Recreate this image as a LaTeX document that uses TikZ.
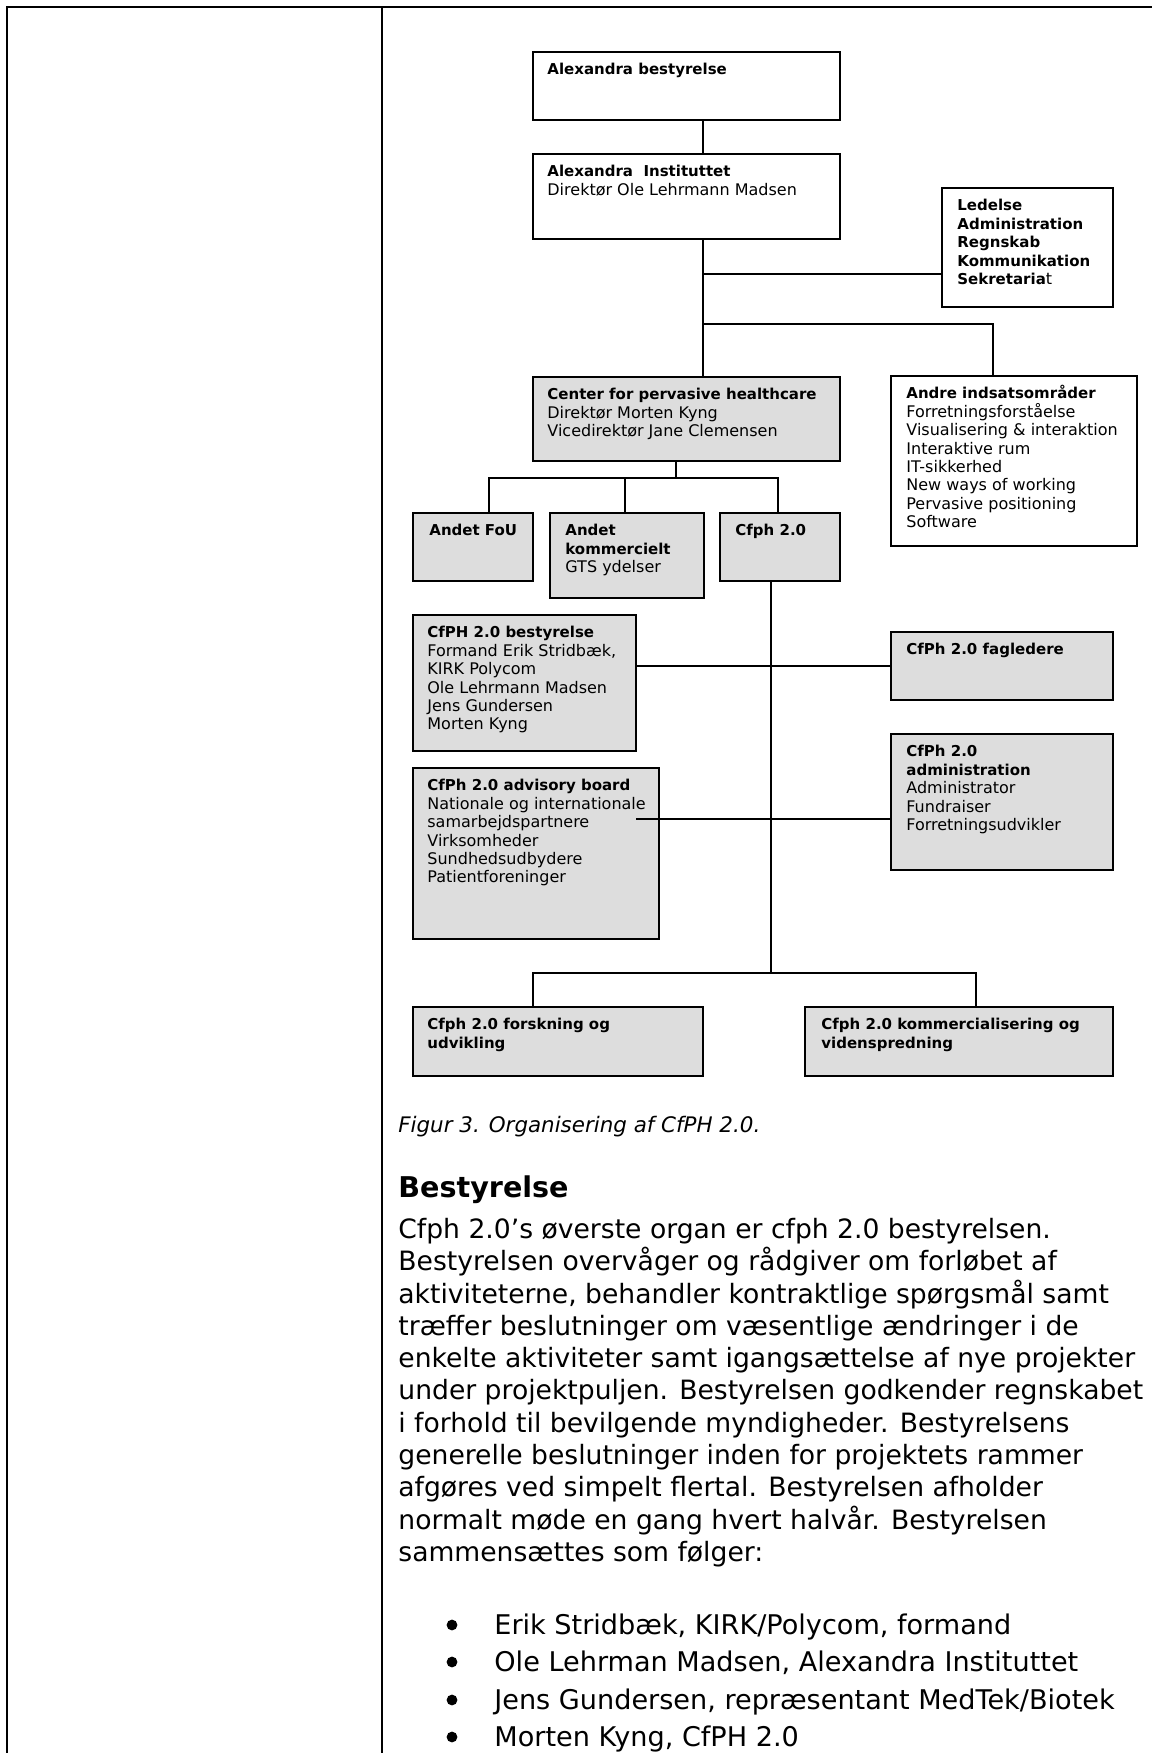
\documentclass[tikz,border=0pt]{standalone}
\usepackage{fontspec}
\setmainfont{DejaVu Sans}
\usetikzlibrary{calc}
\definecolor{boxgray}{HTML}{DDDDDD}
\newcommand{\chB}[1]{{\fontsize{7.5}{9.2}\selectfont\bfseries #1}}
\newcommand{\chS}{\rule{0pt}{8pt}}
\newcommand{\bdS}{\rule{0pt}{13pt}}
\tikzset{
  orgbox/.style={draw=black, line width=0.65pt, fill=white, anchor=north west, inner sep=0pt, outer sep=0pt},
  graybox/.style={orgbox, fill=boxgray},
  boxtext/.style={anchor=north west, inner sep=0pt, align=left, font=\fontsize{8}{9.2}\selectfont},
  link/.style={line width=0.6pt},
  framerule/.style={line width=1pt},
  bodytext/.style={anchor=north west, inner sep=0pt, align=left, font=\fontsize{13.3}{16.15}\selectfont},
  bullettext/.style={anchor=base west, inner sep=0pt, font=\fontsize{13.55}{16.1}\selectfont},
  bulletdot/.style={circle, fill=black, inner sep=0pt, minimum size=5.4pt},
}
\begin{document}
\begin{tikzpicture}[x=0.5pt,y=-0.5pt]
\useasboundingbox (0,0) rectangle (1152,1753);
\fill[white] (0,0) rectangle (1152,1753);
% page frame
\draw[framerule] (7,1753) -- (7,7) -- (1152,7);
\draw[framerule] (382,7) -- (382,1753);

% boxes
\node[orgbox, minimum width=153.5pt, minimum height=34pt] (A) at (533,52) {};
\node[orgbox, minimum width=153.5pt, minimum height=42.5pt] (B) at (533,154) {};
\node[orgbox, minimum width=85.5pt, minimum height=59.5pt] (L) at (942,188) {};
\node[graybox, minimum width=153.5pt, minimum height=42pt] (C) at (533,377) {};
\node[orgbox, minimum width=123pt, minimum height=85pt] (D) at (891,376) {};
\node[graybox, minimum width=60pt, minimum height=34pt] (E) at (413,513) {};
\node[graybox, minimum width=77pt, minimum height=42.5pt] (F) at (550,513) {};
\node[graybox, minimum width=60pt, minimum height=34pt] (G) at (720,513) {};
\node[graybox, minimum width=111.5pt, minimum height=68pt] (H) at (413,615) {};
\node[graybox, minimum width=111pt, minimum height=34pt] (I) at (891,632) {};
\node[graybox, minimum width=123pt, minimum height=85.5pt] (J) at (413,768) {};
\node[graybox, minimum width=111pt, minimum height=68pt] (K) at (891,734) {};
\node[graybox, minimum width=145pt, minimum height=34.5pt] (M) at (413,1007) {};
\node[graybox, minimum width=154pt, minimum height=34.5pt] (N) at (805,1007) {};

% box texts
\node[boxtext] (At) at ($(A.north west)+(14,6.5)$) {\chS\chB{Alexandra bestyrelse}};
\node[boxtext] (Bt) at ($(B.north west)+(14,6.5)$) {\chS\chB{Alexandra\ \ Instituttet}\\Direktør Ole Lehrmann Madsen};
\node[boxtext] (Lt) at ($(L.north west)+(15,6.5)$) {\chS\chB{Ledelse}\\\chB{Administration}\\\chB{Regnskab}\\\chB{Kommunikation}\\\chB{Sekretaria}t};
\node[boxtext] (Ct) at ($(C.north west)+(14,6.5)$) {\chS\chB{Center for pervasive healthcare}\\Direktør Morten Kyng\\Vicedirektør Jane Clemensen};
\node[boxtext] (Dt) at ($(D.north west)+(15,6.5)$) {\chS\chB{Andre indsatsområder}\\Forretningsforståelse\\Visualisering \& interaktion\\Interaktive rum\\IT-sikkerhed\\New ways of working\\Pervasive positioning\\Software};
\node[boxtext] (Et) at ($(E.north west)+(16,6.5)$) {\chS\chB{Andet FoU}};
\node[boxtext] (Ft) at ($(F.north west)+(15,6.5)$) {\chS\chB{Andet}\\\chB{kommercielt}\\GTS ydelser};
\node[boxtext] (Gt) at ($(G.north west)+(15,6.5)$) {\chS\chB{Cfph 2.0}};
\node[boxtext] (Ht) at ($(H.north west)+(14,6.5)$) {\chS\chB{CfPH 2.0 bestyrelse}\\Formand Erik Stridbæk,\\KIRK Polycom\\Ole Lehrmann Madsen\\Jens Gundersen\\Morten Kyng};
\node[boxtext] (It) at ($(I.north west)+(15,6.5)$) {\chS\chB{CfPh 2.0 fagledere}};
\node[boxtext] (Jt) at ($(J.north west)+(14,6.5)$) {\chS\chB{CfPh 2.0 advisory board}\\Nationale og internationale\\samarbejdspartnere\\Virksomheder\\Sundhedsudbydere\\Patientforeninger};
\node[boxtext] (Kt) at ($(K.north west)+(15,6.5)$) {\chS\chB{CfPh 2.0}\\\chB{administration}\\Administrator\\Fundraiser\\Forretningsudvikler};
\node[boxtext] (Mt) at ($(M.north west)+(14,6.5)$) {\chS\chB{Cfph 2.0 forskning og}\\\chB{udvikling}};
\node[boxtext] (Nt) at ($(N.north west)+(16,6.5)$) {\chS\chB{Cfph 2.0 kommercialisering og}\\\chB{videnspredning}};

% lanes and junctions
\coordinate (v1) at (703,0);
\coordinate (v2) at (993,0);
\coordinate (v3) at (676,0);
\coordinate (vE) at (489,0);
\coordinate (vF) at (625,0);
\coordinate (vG) at (778,0);
\coordinate (vG2) at (771,0);
\coordinate (vM) at (533,0);
\coordinate (vN) at (976,0);
\coordinate (h1) at (0,478);
\coordinate (h2) at (0,973);
\coordinate (h3) at (0,666);
\coordinate (j1) at (703,274);
\coordinate (j2) at (703,324);
\coordinate (jJ) at (636,819);

% connectors
\draw[link] (A.south -| v1) -- (B.north -| v1);
\draw[link] (B.south -| v1) -- (C.north -| v1);
\draw[link] (j1) -- (j1 -| L.west);
\draw[link] (j2) -- (j2 -| v2) -- (D.north -| v2);
\draw[link] (C.south -| v3) -- (v3 |- h1);
\draw[link] (E.north -| vE) -- (vE |- h1) -- (vG |- h1) -- (G.north -| vG);
\draw[link] (F.north -| vF) -- (vF |- h1);
\draw[link] (G.south -| vG2) -- (vG2 |- h2);
\draw[link] (M.north -| vM) -- (vM |- h2) -- (vN |- h2) -- (N.north -| vN);
\draw[link] (H.east |- h3) -- (I.west |- h3);
\draw[link] (jJ) -- (jJ -| K.west);

% caption and body text
\node[anchor=base west, inner sep=0pt, font=\fontsize{10.7}{13}\selectfont\itshape] (cap) at (398,1132) {Figur 3. Organisering af CfPH 2.0.};
\node[anchor=base west, inner sep=0pt, font=\fontsize{14.3}{17}\selectfont\bfseries] (head) at (398,1197) {Bestyrelse};
\node[bodytext] (para) at (398,1212) {\bdS Cfph 2.0’s øverste organ er cfph 2.0 bestyrelsen.\\
Bestyrelsen overvåger og rådgiver om forløbet af\\
aktiviteterne, behandler kontraktlige spørgsmål samt\\
træffer beslutninger om væsentlige ændringer i de\\
enkelte aktiviteter samt igangsættelse af nye projekter\\
under projektpuljen. Bestyrelsen godkender regnskabet\\
i forhold til bevilgende myndigheder. Bestyrelsens\\
generelle beslutninger inden for projektets rammer\\
afgøres ved simpelt flertal. Bestyrelsen afholder\\
normalt møde en gang hvert halvår. Bestyrelsen\\
sammensættes som følger:};

\node[bulletdot] (d1) at (452,1625) {};
\node[bulletdot] (d2) at (452,1662) {};
\node[bulletdot] (d3) at (452,1700) {};
\node[bulletdot] (d4) at (452,1737) {};
\node[bullettext] (b1) at (494,1634) {Erik Stridbæk, KIRK/Polycom, formand};
\node[bullettext] (b2) at (494,1671) {Ole Lehrman Madsen, Alexandra Instituttet};
\node[bullettext] (b3) at (494,1709) {Jens Gundersen, repræsentant MedTek/Biotek};
\node[bullettext] (b4) at (494,1746) {Morten Kyng, CfPH 2.0};
\end{tikzpicture}
\end{document}
